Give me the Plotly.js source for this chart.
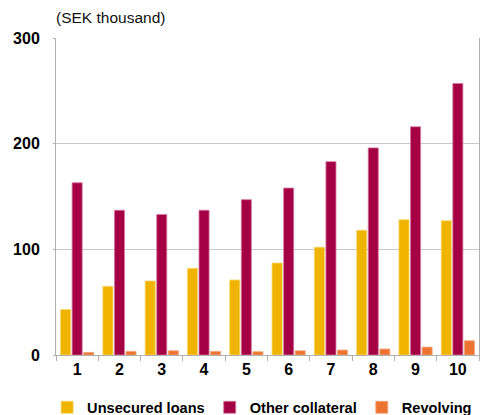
<!DOCTYPE html>
<html>
<head>
<meta charset="utf-8">
<script src="https://cdn.plot.ly/plotly-3.0.1.min.js"></script>
<style>html,body{margin:0;padding:0;background:#fff;}#chart{width:480px;height:415px;}</style>
</head>
<body>
<div id="chart"></div>
<script>
var categories = ['1','2','3','4','5','6','7','8','9','10'];
var unsecuredLoans = [43, 65, 70, 82, 71, 87, 102, 118, 128, 127];
var otherCollateral = [163, 137, 133, 137, 147, 158, 183, 196, 216, 257];
var revolving = [2.5, 3.4, 4, 3.4, 3.1, 4, 4.7, 5.7, 7.5, 13.5];
var yTicks = [0, 100, 200, 300];

var font = "Liberation Sans, Arial, Helvetica, sans-serif";
function barTrace(name, vals, color, edge) {
  return {type:'bar', name:name, x:categories, y:vals,
    marker:{color:color, line:{color:edge, width:0.8}}, hoverinfo:'skip'};
}
var data = [
  barTrace('Unsecured loans', unsecuredLoans, '#F0B400', '#F7D466'),
  barTrace('Other collateral', otherCollateral, '#A50044', '#D27A9E'),
  barTrace('Revolving', revolving, '#EC7430', '#F4A77A')
];
var layout = {
  width:480, height:415,
  margin:{l:56, r:1, t:38, b:60, pad:0, autoexpand:false},
  paper_bgcolor:'#fff', plot_bgcolor:'#fff',
  font:{family:font, color:'#000'},
  barmode:'group', bargap:0.18, bargroupgap:0.13,
  showlegend:true,
  legend:{orientation:'h', x:-0.021, xanchor:'left', y:-0.165, yanchor:'middle',
    font:{family:font, size:14.6, weight:'bold', color:'#000'}, traceorder:'normal',
    itemwidth:30, itemgap:1, bgcolor:'rgba(0,0,0,0)'},
  xaxis:{type:'category', tickson:'boundaries', ticks:'outside', ticklen:5, tickcolor:'#b0b0b0',
    showline:true, linecolor:'#b0b0b0', linewidth:1, showgrid:false,
    tickfont:{family:font, size:16, weight:'bold', color:'#000'}, fixedrange:true},
  yaxis:{range:[0,300], tickvals:yTicks, ticktext:yTicks.map(String), showline:true, mirror:true,
    linecolor:'#b0b0b0', linewidth:1, gridcolor:'#c8c8c8', gridwidth:1.3, zeroline:false,
    ticks:'outside', ticklen:2, tickcolor:'#b0b0b0', ticklabelstandoff:10,
    tickfont:{family:font, size:16, weight:'bold', color:'#000'}, fixedrange:true},
  annotations:[{text:'(SEK thousand)', xref:'paper', yref:'paper', x:-0.005, y:1.065,
    xanchor:'left', yanchor:'middle', showarrow:false,
    font:{family:font, size:15.5, color:'#111'}}]
};
Plotly.newPlot('chart', data, layout, {staticPlot:true, displayModeBar:false});
</script>
</body>
</html>
